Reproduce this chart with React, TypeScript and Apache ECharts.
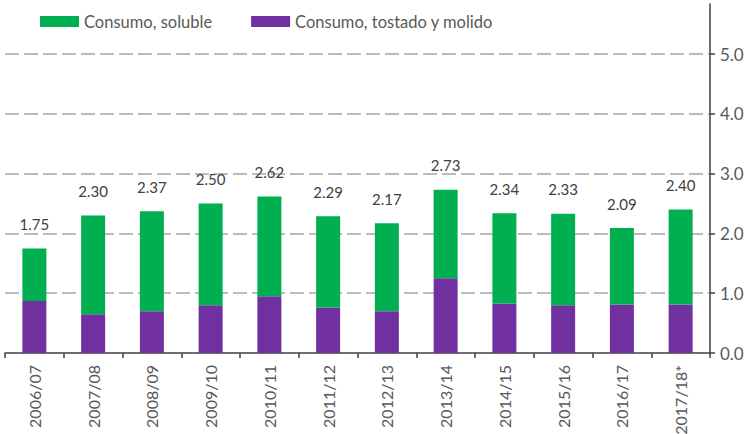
import React, { useEffect, useRef } from "react";
import * as echarts from "echarts";

const categories = [
  "2006/07", "2007/08", "2008/09", "2009/10", "2010/11", "2011/12",
  "2012/13", "2013/14", "2014/15", "2015/16", "2016/17", "2017/18*",
];
const totals = [1.75, 2.30, 2.37, 2.50, 2.62, 2.29, 2.17, 2.73, 2.34, 2.33, 2.09, 2.40];
const tostado = [0.87, 0.65, 0.70, 0.80, 0.95, 0.76, 0.70, 1.25, 0.83, 0.80, 0.81, 0.81];
const soluble = totals.map((t, i) => Math.round((t - tostado[i]) * 100) / 100);

const FONT = "Lato";

export default function App() {
  const ref = useRef<HTMLDivElement>(null);
  useEffect(() => {
    if (!ref.current) return;
    const chart = echarts.init(ref.current, null, { renderer: "svg" });
    chart.setOption({
      animation: false,
      textStyle: { fontFamily: FONT },
      legend: {
        data: ["Consumo, soluble", "Consumo, tostado y molido"],
        left: 40,
        top: 8,
        padding: [5, 0, 5, 0],
        itemWidth: 39,
        itemHeight: 11,
        itemGap: 39,
        icon: "rect",
        textStyle: { fontFamily: FONT, fontSize: 16.5, color: "#595959" },
      },
      grid: { left: 5, right: 45, top: 4, bottom: 81, containLabel: false, outerBoundsMode: "none" },
      xAxis: {
        type: "category",
        data: categories,
        axisLine: { lineStyle: { color: "#404040", width: 1.5 } },
        axisTick: { show: true, length: 5, lineStyle: { color: "#404040", width: 1.5 } },
        axisLabel: {
          rotate: 90,
          margin: 12,
          fontSize: 16,
          color: "#595959",
          fontFamily: FONT,
        },
      },
      yAxis: {
        type: "value",
        position: "right",
        min: 0,
        max: 5.84,
        interval: 1,
        axisLine: { show: true, lineStyle: { color: "#404040", width: 1.5 } },
        axisTick: { show: true, length: 5, lineStyle: { color: "#404040", width: 1.5 } },
        axisLabel: {
          showMaxLabel: false,
          margin: 10,
          fontSize: 17,
          color: "#595959",
          fontFamily: FONT,
          formatter: (v: number) => v.toFixed(1),
        },
        splitLine: {
          show: true,
          showMinLine: false,
          showMaxLine: false,
          lineStyle: { color: "#A6A6A6", type: [14, 5], width: 1.5 },
        },
      },
      series: [
        {
          name: "Consumo, tostado y molido",
          type: "bar",
          stack: "total",
          data: tostado,
          barWidth: 24,
          itemStyle: { color: "#7030A0" },
        },
        {
          name: "Consumo, soluble",
          type: "bar",
          stack: "total",
          data: soluble,
          barWidth: 24,
          itemStyle: { color: "#00B050" },
          label: {
            show: true,
            position: "top",
            distance: 17,
            fontSize: 15,
            color: "#404040",
            fontFamily: FONT,
            formatter: (p: any) => totals[p.dataIndex].toFixed(2),
          },
        },
      ],
    });
    return () => chart.dispose();
  }, []);
  return (
    <div
      ref={ref}
      style={{ position: "fixed", left: 0, top: 0, width: 755, height: 434, background: "#fff" }}
    />
  );
}
